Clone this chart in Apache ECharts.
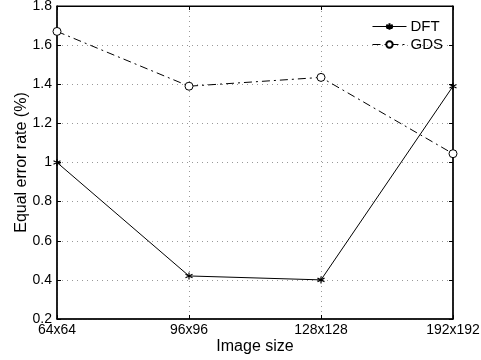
<!DOCTYPE html>
<html><head><meta charset="utf-8">
<script src="https://cdn.jsdelivr.net/npm/echarts@6/dist/echarts.min.js"></script>
<style>html,body{margin:0;padding:0;background:#fff}#c{width:481px;height:360px}</style>
</head><body><div id="c"></div>
<script>
var categories = ['64x64', '96x96', '128x128', '192x192'];
var dftValues = [1.0, 0.42, 0.40, 1.39];
var gdsValues = [1.67, 1.39, 1.435, 1.045];
var yTicks = [0.2, 0.4, 0.6, 0.8, 1, 1.2, 1.4, 1.6, 1.8];

var font = 'Liberation Sans, Arial, Helvetica, sans-serif';
var star = 'path://M0,-10L0,10M-8.66,-5L8.66,5M-8.66,5L8.66,-5';
var chart = echarts.init(document.getElementById('c'), null, {renderer: 'canvas'});
chart.setOption({
  animation: false,
  backgroundColor: '#fff',
  grid: {left: 57, right: 28, top: 6, bottom: 41, show: true, borderColor: '#000', borderWidth: 1,
    containLabel: false, outerBoundsMode: 'none'},
  legend: {
    right: 33, top: 14, orient: 'vertical', itemGap: 3, itemWidth: 34, itemHeight: 8,
    textStyle: {fontFamily: font, fontSize: 15, color: '#000', padding: [0, 0, 0, -1]},
    lineStyle: {width: 1},
    data: ['DFT', 'GDS']
  },
  xAxis: [{
    type: 'category', data: categories, boundaryGap: false,
    name: 'Image size', nameLocation: 'middle', nameGap: 20, nameMoveOverlap: false,
    nameTextStyle: {fontFamily: font, fontSize: 16, color: '#000'},
    axisLine: {lineStyle: {color: '#000', width: 1.5}},
    axisTick: {inside: true, length: 4, lineStyle: {color: '#000'}},
    axisLabel: {fontFamily: font, fontSize: 14, color: '#000', margin: 4},
    splitLine: {show: true, lineStyle: {color: '#999', type: [1, 4]}}
  }, {
    type: 'category', data: categories, boundaryGap: false, position: 'top',
    axisLine: {lineStyle: {color: '#000'}},
    axisTick: {inside: true, length: 4, lineStyle: {color: '#000'}},
    axisLabel: {show: false}, splitLine: {show: false}
  }],
  yAxis: [{
    type: 'value', min: yTicks[0], max: yTicks[yTicks.length - 1], interval: 0.2,
    name: 'Equal error rate (%)', nameLocation: 'middle', nameGap: 27, nameMoveOverlap: false,
    nameTextStyle: {fontFamily: font, fontSize: 16, color: '#000'},
    axisLine: {show: true, lineStyle: {color: '#000', width: 1.5}},
    axisTick: {show: true, inside: true, length: 4, lineStyle: {color: '#000'}},
    axisLabel: {fontFamily: font, fontSize: 14, color: '#000', margin: 5,
      formatter: function (v) { return String(Math.round(v * 10) / 10); }},
    splitLine: {show: true, lineStyle: {color: '#999', type: [1, 4]}}
  }, {
    type: 'value', min: yTicks[0], max: yTicks[yTicks.length - 1], interval: 0.2, position: 'right',
    axisLine: {show: true, lineStyle: {color: '#000', width: 1.5}},
    axisTick: {show: true, inside: true, length: 4, lineStyle: {color: '#000'}},
    axisLabel: {show: false}, splitLine: {show: false}
  }],
  series: [{
    name: 'DFT', type: 'line', data: dftValues,
    symbol: star, symbolSize: 7,
    lineStyle: {color: '#000', width: 1},
    itemStyle: {color: '#000', borderColor: '#000', borderWidth: 1.2}
  }, {
    name: 'GDS', type: 'line', data: gdsValues,
    symbol: 'circle', symbolSize: 8,
    lineStyle: {color: '#000', width: 1, type: [8, 4, 2, 4]},
    itemStyle: {color: '#fff', borderColor: '#000', borderWidth: 1}
  }]
});
</script></body></html>
